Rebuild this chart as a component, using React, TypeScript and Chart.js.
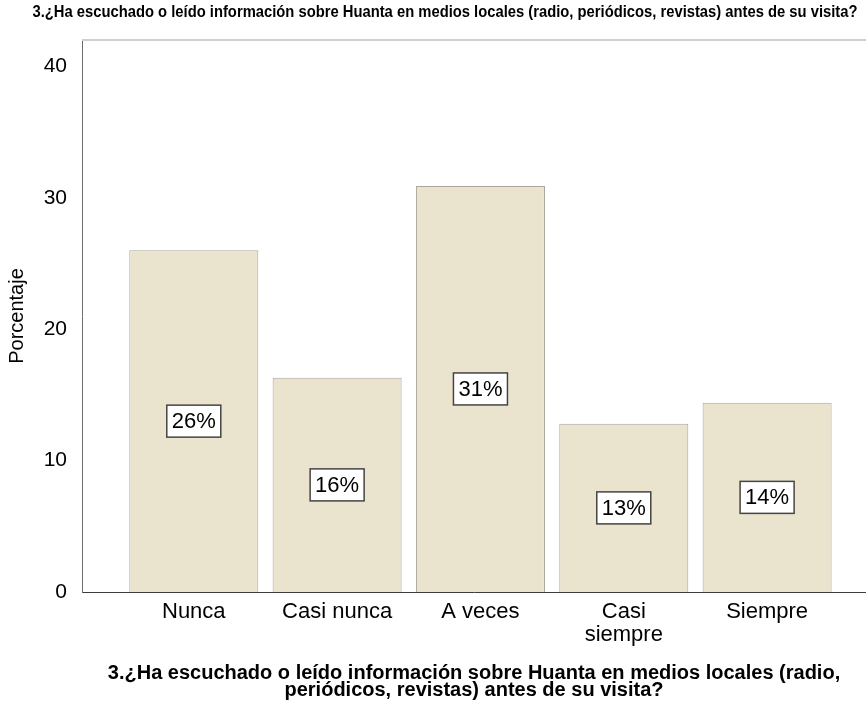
import React, { useEffect, useRef } from "react";
import { Chart, registerables } from "chart.js";

Chart.register(...registerables);

const categories = ["Nunca", "Casi nunca", "A veces", ["Casi", "siempre"], "Siempre"];
const percentages = [26.0, 16.3, 30.9, 12.8, 14.4];
const yTicks = [0, 10, 20, 30, 40];
const questionTitle =
  "3.¿Ha escuchado o leído información sobre Huanta en medios locales (radio, periódicos, revistas) antes de su visita?";
const xAxisTitle = [
  "3.¿Ha escuchado o leído información sobre Huanta en medios locales (radio,",
  "periódicos, revistas) antes de su visita?",
];
const yAxisTitle = "Porcentaje";

const FONT = '"Liberation Sans", Arial, sans-serif';

// Title at the top (condensed bold) and the light frame line above the plot
const headerPlugin = {
  id: "header",
  afterDraw(chart: any) {
    const { ctx, chartArea } = chart;
    ctx.save();
    ctx.strokeStyle = "#cfcfcf";
    ctx.lineWidth = 2;
    ctx.beginPath();
    ctx.moveTo(chartArea.left, chartArea.top);
    ctx.lineTo(chartArea.right, chartArea.top);
    ctx.stroke();

    ctx.font = `bold 16px ${FONT}`;
    ctx.fillStyle = "#000";
    ctx.textAlign = "center";
    ctx.textBaseline = "middle";
    const w = ctx.measureText(questionTitle).width;
    const sx = 825 / w;
    ctx.translate(445, 13);
    ctx.scale(sx, 1);
    ctx.fillText(questionTitle, 0, 0);
    ctx.restore();
  },
};

// Boxed percentage labels at the middle of each bar
const valueBoxPlugin = {
  id: "valueBoxes",
  afterDatasetsDraw(chart: any) {
    const { ctx } = chart;
    const meta = chart.getDatasetMeta(0);
    ctx.save();
    ctx.font = `22px ${FONT}`;
    ctx.textAlign = "center";
    ctx.textBaseline = "middle";
    meta.data.forEach((bar: any, i: number) => {
      const label = `${Math.round(percentages[i])}%`;
      const cx = bar.x;
      const cy = (bar.y + bar.base) / 2;
      const bw = 54;
      const bh = 32;
      ctx.fillStyle = "#ffffff";
      ctx.fillRect(cx - bw / 2, cy - bh / 2, bw, bh);
      ctx.strokeStyle = "#444444";
      ctx.lineWidth = 1.5;
      ctx.strokeRect(cx - bw / 2, cy - bh / 2, bw, bh);
      ctx.fillStyle = "#000";
      ctx.fillText(label, cx, cy + 1);
    });
    ctx.restore();
  },
};

export default function App() {
  const canvasRef = useRef<HTMLCanvasElement | null>(null);

  useEffect(() => {
    if (!canvasRef.current) return;
    const chart = new Chart(canvasRef.current, {
      type: "bar",
      data: {
        datasets: [
          {
            data: percentages.map((v, i) => ({ x: i, y: v })),
            backgroundColor: "#eae4cf",
            borderColor: "#a9a69c",
            borderWidth: 1,
            categoryPercentage: 1,
            barPercentage: 0.9,
          },
        ],
      },
      options: {
        animation: false,
        responsive: true,
        maintainAspectRatio: false,
        layout: { padding: { top: 40, left: 0, right: 0, bottom: 0 } },
        plugins: {
          legend: { display: false },
          tooltip: { enabled: false },
          title: { display: false },
        },
        scales: {
          x: {
            type: "linear",
            offset: false,
            min: -0.78,
            max: 4.69,
            grid: { display: false, drawTicks: false },
            border: { display: true, color: "#3c3c3c", width: 1 },
            afterBuildTicks: (scale: any) => {
              scale.ticks = categories.map((_, i) => ({ value: i }));
            },
            afterFit: (scale: any) => {
              scale.height = 110;
            },
            ticks: {
              autoSkip: false,
              maxRotation: 0,
              padding: 8,
              color: "#000",
              font: { family: FONT, size: 22, lineHeight: 1.05 },
              callback: (v: any) => categories[v as number] as any,
            },
            title: {
              display: true,
              text: xAxisTitle,
              color: "#000",
              font: { family: FONT, size: 20, weight: "bold", lineHeight: 0.86 },
              padding: { top: 0, bottom: 3 },
            },
          },
          y: {
            min: 0,
            max: 42,
            grid: { display: false, drawTicks: false },
            border: { display: true, color: "#6b6b6b", width: 1 },
            afterBuildTicks: (scale: any) => {
              scale.ticks = yTicks.map((v) => ({ value: v }));
            },
            afterFit: (scale: any) => {
              scale.width = 82;
            },
            ticks: {
              padding: 15,
              color: "#000",
              font: { family: FONT, size: 21 },
            },
            title: {
              display: true,
              text: yAxisTitle,
              color: "#000",
              font: { family: FONT, size: 20, lineHeight: 1.2 },
              padding: { top: 5, bottom: 0 },
            },
          },
        },
      },
      plugins: [headerPlugin, valueBoxPlugin],
    });
    return () => chart.destroy();
  }, []);

  return (
    <div style={{ position: "fixed", left: 0, top: 0, width: 866, height: 702, background: "#fff" }}>
      <canvas ref={canvasRef} />
    </div>
  );
}
